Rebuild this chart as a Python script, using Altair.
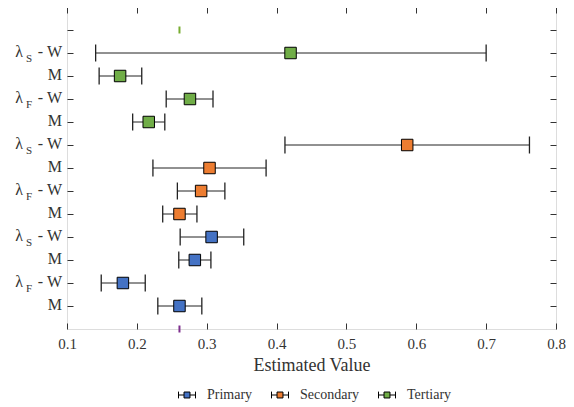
import altair as alt
import pandas as pd

# ---------------- data ----------------
series = ["Primary", "Secondary", "Tertiary"]
colors = ["#4472C4", "#ED7D31", "#70AD47"]

# rows from bottom to top inside each series block
row_main = ["M", "- W", "M", "- W"]
row_greek = ["", "λ", "", "λ"]
row_sub = ["", "F", "", "S"]

primary_mid = [0.261, 0.180, 0.283, 0.307]
primary_lo = [0.230, 0.149, 0.260, 0.262]
primary_hi = [0.293, 0.212, 0.306, 0.353]

secondary_mid = [0.261, 0.292, 0.304, 0.587]
secondary_lo = [0.237, 0.258, 0.223, 0.412]
secondary_hi = [0.286, 0.326, 0.385, 0.762]

tertiary_mid = [0.217, 0.276, 0.176, 0.420]
tertiary_lo = [0.194, 0.242, 0.146, 0.141]
tertiary_hi = [0.240, 0.309, 0.207, 0.700]

ref_value = [0.261, 0.261]
ref_pos = [13, 0]
ref_color = ["#77AC30", "#7E2F8E"]

x_ticks = [0.1, 0.2, 0.3, 0.4, 0.5, 0.6, 0.7, 0.8]
y_ticks = list(range(1, 14))

# ---------------- tables ----------------
mids = [primary_mid, secondary_mid, tertiary_mid]
los = [primary_lo, secondary_lo, tertiary_lo]
his = [primary_hi, secondary_hi, tertiary_hi]

rows = []
for si, s in enumerate(series):
    for ri in range(4):
        rows.append(dict(series=s, pos=si * 4 + ri + 1, mid=mids[si][ri],
                         lo=los[si][ri], hi=his[si][ri],
                         main=row_main[ri], greek=row_greek[ri], sub=row_sub[ri]))
df = pd.DataFrame(rows)
caps = pd.concat([df[["pos", "lo"]].rename(columns={"lo": "v"}),
                  df[["pos", "hi"]].rename(columns={"hi": "v"})])
ref = pd.DataFrame(dict(v=ref_value, pos=ref_pos, c=ref_color))

W, H = 489, 322
FONT = "'Liberation Serif', 'Times New Roman', Times, serif"
xs = alt.Scale(domain=[0.1, 0.8], nice=False, zero=False)
ys = alt.Scale(domain=[0, 14], nice=False, zero=False)

tick_axis = dict(labels=False, ticks=True, tickSize=6, tickColor="#333",
                 tickWidth=1, domain=False, grid=False, title=None)

rules = alt.Chart(df).mark_rule(color="#222", strokeWidth=1).encode(
    x=alt.X("lo:Q", scale=xs, axis=alt.Axis(
        orient="bottom", values=x_ticks, format=".1f", ticks=False, domain=False,
        grid=False, labelFont=FONT, labelFontSize=15, labelColor="#333",
        labelFlush=False, labelOverlap=False,
        labelPadding=7, title="Estimated Value", titleFont=FONT,
        titleFontSize=18, titleFontWeight="normal", titleColor="#333",
        titlePadding=5)),
    x2="hi:Q",
    y=alt.Y("pos:Q", scale=ys, axis=None),
)

capmarks = alt.Chart(caps).mark_tick(orient="vertical", size=17, thickness=1.3,
                                     color="#222", opacity=1).encode(
    x=alt.X("v:Q", scale=xs, axis=alt.Axis(orient="top", offset=-H,
                                           values=x_ticks, **tick_axis)),
    y=alt.Y("pos:Q", scale=ys, axis=alt.Axis(orient="right", offset=-W,
                                             values=y_ticks, **tick_axis)),
)

legend_path = ("M-1,-0.4V0.4M-1,0H-0.35M0.35,0H1M1,-0.4V0.4"
               "M-0.35,-0.35H0.35V0.35H-0.35Z")

squares = alt.Chart(df).mark_square(size=132, filled=True, stroke="black",
                                    strokeWidth=1, opacity=1).encode(
    x=alt.X("mid:Q", scale=xs, axis=alt.Axis(orient="bottom", offset=-H,
                                             values=x_ticks, **tick_axis)),
    y=alt.Y("pos:Q", scale=ys, axis=alt.Axis(orient="left", offset=-W,
                                             values=y_ticks, **tick_axis)),
    color=alt.Color("series:N", scale=alt.Scale(domain=series, range=colors),
                    legend=alt.Legend(
                        title=None, orient="none", direction="horizontal",
                        legendX=111, legendY=379, symbolType=legend_path,
                        symbolSize=289, symbolStrokeColor="black",
                        symbolStrokeWidth=1, labelFont=FONT, labelFontSize=14,
                        labelColor="#333", labelOffset=11, columnPadding=16)),
)

refmarks = alt.Chart(ref).mark_tick(orient="vertical", size=7, thickness=2,
                                    opacity=1).encode(
    x=alt.X("v:Q", scale=xs, axis=None),
    y=alt.Y("pos:Q", scale=ys, axis=None),
    color=alt.Color("c:N", scale=None, legend=None),
)

main_txt = alt.Chart(df).mark_text(align="right", baseline="middle", font=FONT,
                                   fontSize=16, color="#333", dy=-1).encode(
    x=alt.value(-5), y=alt.Y("pos:Q", scale=ys, axis=None), text="main:N")
greek_txt = alt.Chart(df).mark_text(align="right", baseline="middle", font=FONT,
                                    fontSize=16, color="#333", dy=-1).encode(
    x=alt.value(-44), y=alt.Y("pos:Q", scale=ys, axis=None), text="greek:N")
sub_txt = alt.Chart(df).mark_text(align="right", baseline="middle", font=FONT,
                                  fontSize=11, color="#333", dy=6).encode(
    x=alt.value(-35), y=alt.Y("pos:Q", scale=ys, axis=None), text="sub:N")

chart = alt.layer(rules, capmarks, squares, refmarks, main_txt, greek_txt,
                  sub_txt).resolve_axis(
    x="independent", y="independent"
).properties(
    width=W, height=H,
    autosize=alt.AutoSizeParams(type="none"),
    padding={"left": 59, "top": -1, "right": 10, "bottom": 82},
).configure_view(stroke="#555", strokeWidth=1.2).configure(
    background="white", font=FONT)

chart.save("out.html", embed_options={"renderer": "svg", "actions": False})
